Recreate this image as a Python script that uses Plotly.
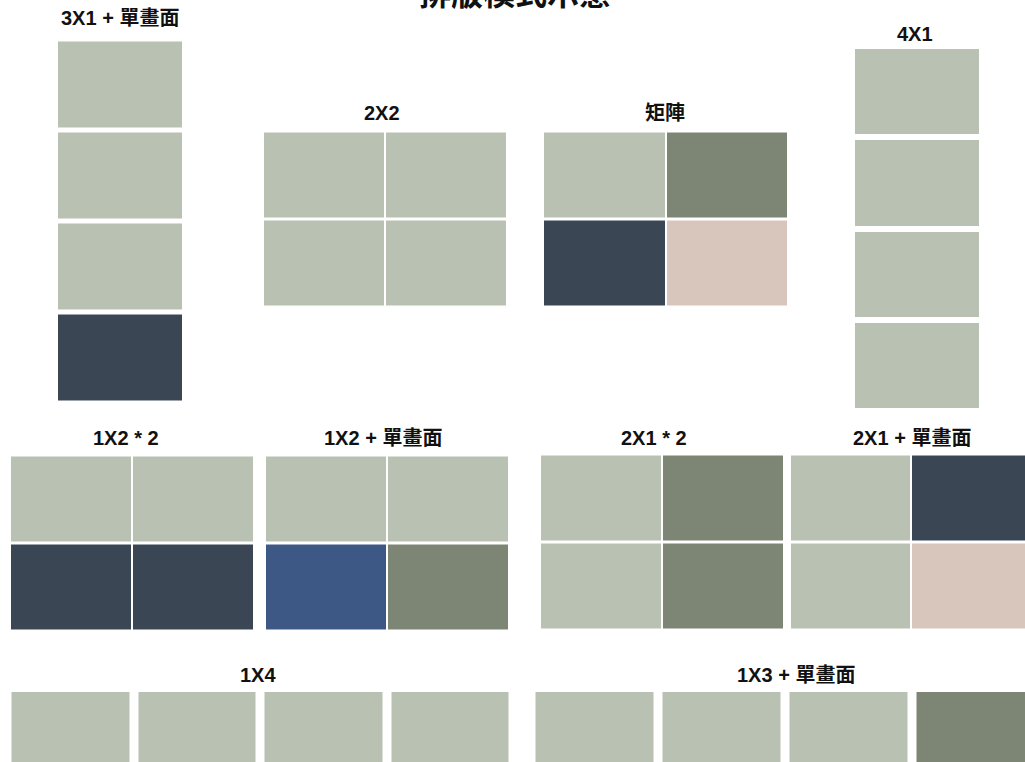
import plotly.graph_objects as go

W, H = 1025, 762

# colour codes: 0 light sage, 1 mid green, 2 dark slate, 3 blue, 4 pink
palette = ["#B8C1B2", "#7D8574", "#3B4654", "#3E5886", "#D8C5BC"]

main_title = "排版模式示意"
titles = ["3X1 + 單畫面", "2X2", "矩陣", "4X1", "1X2 * 2",
          "1X2 + 單畫面", "2X1 * 2", "2X1 + 單畫面", "1X4", "1X3 + 單畫面"]

grid_3x1_single = [[0], [0], [0], [2]]
grid_2x2 = [[0, 0], [0, 0]]
grid_matrix = [[0, 1], [2, 4]]
grid_4x1 = [[0], [0], [0], [0]]
grid_1x2_x2 = [[0, 0], [2, 2]]
grid_1x2_single = [[0, 0], [3, 1]]
grid_2x1_x2 = [[0, 1], [0, 1]]
grid_2x1_single = [[0, 2], [0, 4]]
grid_1x4 = [[0, 0, 0, 0]]
grid_1x3_single = [[0, 0, 0, 1]]

grids = [grid_3x1_single, grid_2x2, grid_matrix, grid_4x1, grid_1x2_x2,
         grid_1x2_single, grid_2x1_x2, grid_2x1_single, grid_1x4, grid_1x3_single]

# placement (pixels): cell block box x0, y0, x1, y1 ; gaps ; title centre
boxes = [(58, 42, 182, 401), (264, 133, 506, 306), (544, 133, 787, 306),
         (855, 49, 979, 408), (11, 457, 253, 630), (266, 457, 508, 630),
         (541, 456, 783, 629), (791, 456, 1031, 629), (12, 692, 509, 778),
         (536, 692, 1035, 778)]
gaps = [(0, 5), (2, 3), (2, 3), (0, 6), (2, 3), (2, 3), (2, 3), (2, 3),
        (9, 0), (9, 0)]
title_pos = [(120, 18), (382, 113), (665, 113), (915, 34), (126, 438),
             (383, 438), (654, 438), (912, 438), (258, 675), (796, 675)]

n = len(palette)
colorscale = []
for k, c in enumerate(palette):
    colorscale.append([k / n, c])
    colorscale.append([(k + 1) / n, c])

fig = go.Figure()
layout_axes = {}
for i, (grid, box, gap) in enumerate(zip(grids, boxes, gaps)):
    rows, cols = len(grid), len(grid[0])
    x0, y0, x1, y1 = box
    gx, gy = gap
    ox0, ox1 = x0 - gx / 2, x1 + gx / 2
    oy0, oy1 = y0 - gy / 2, y1 + gy / 2
    px = (ox1 - ox0) / cols
    py = (oy1 - oy0) / rows
    vx0, vx1 = max(ox0, 0), min(ox1, W)
    vy0, vy1 = max(oy0, 0), min(oy1, H)
    xr = [-0.5 + (vx0 - ox0) / px, -0.5 + (vx1 - ox0) / px]
    yr = [-0.5 + (vy1 - oy0) / py, -0.5 + (vy0 - oy0) / py]
    idx = "" if i == 0 else str(i + 1)
    fig.add_trace(go.Heatmap(
        z=grid, x=list(range(cols)), y=list(range(rows)),
        colorscale=colorscale, zmin=-0.5, zmax=n - 0.5, showscale=False,
        xgap=gx, ygap=gy, hoverinfo="skip",
        xaxis="x" + idx, yaxis="y" + idx))
    layout_axes["xaxis" + idx] = dict(domain=[vx0 / W, vx1 / W], range=xr,
                                      visible=False, fixedrange=True)
    layout_axes["yaxis" + idx] = dict(domain=[1 - vy1 / H, 1 - vy0 / H], range=yr,
                                      visible=False, fixedrange=True)

font_family = "Liberation Sans, Arial, Noto Sans CJK TC, sans-serif"
annotations = []
for t, (tx, ty) in zip(titles, title_pos):
    annotations.append(dict(text="<b>" + t + "</b>", x=tx / W, y=1 - ty / H,
                            xref="paper", yref="paper", showarrow=False,
                            xanchor="center", yanchor="middle",
                            font=dict(family=font_family, size=20, color="#111111")))
annotations.append(dict(text="<b>" + main_title + "</b>", x=515 / W, y=1 - 14 / H,
                        xref="paper", yref="paper", showarrow=False,
                        xanchor="center", yanchor="bottom",
                        font=dict(family=font_family, size=32, color="#111111")))

fig.update_layout(width=W, height=H, margin=dict(l=0, r=0, t=0, b=0),
                  paper_bgcolor="white", plot_bgcolor="white",
                  annotations=annotations, showlegend=False, **layout_axes)
fig.write_html("out.html", config={"displayModeBar": False},
               post_script="document.body.style.margin='0';document.body.style.overflow='hidden';")
